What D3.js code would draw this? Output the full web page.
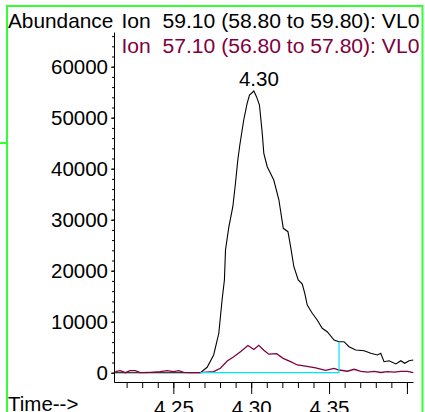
<!DOCTYPE html>
<html><head><meta charset="utf-8">
<script src="https://cdn.jsdelivr.net/npm/d3@7"></script>
<style>
html,body{margin:0;padding:0;background:#fff;overflow:hidden}
svg{display:block;font-family:"Liberation Sans",Arial,Helvetica,sans-serif}
</style>
</head><body>
<svg id="c" width="425" height="412"></svg>
<script>
// ---- data ----
const ion59Time = [4.2119,4.2400,4.2654,4.2674,4.2717,4.2759,4.2792,4.2813,4.2828,4.2835,4.2856,4.2882,4.2899,4.2914,4.2927,4.2952,4.2974,4.2989,4.3017,4.3034,4.3053,4.3071,4.3081,4.3103,4.3145,4.3178,4.3206,4.3236,4.3253,4.3274,4.3302,4.3328,4.3344,4.3360,4.3392,4.3424,4.3456,4.3488,4.3532,4.3564,4.3596,4.3628,4.3671,4.3725,4.3768,4.3811,4.3832,4.3853,4.3885,4.3929,4.3961,4.3986,4.4014,4.4040];
const ion59Values = [0,0,0,0,1060,3470,7730,14250,18180,24060,28510,32550,37140,41710,44650,49550,52820,54450,55240,54120,52490,46940,43020,40390,37780,33860,28310,27650,24710,20780,18180,17390,15570,13270,11650,10330,8710,8040,6410,6080,6080,5100,4450,4310,3800,3470,3800,2160,2350,1710,2350,1840,2350,2490];

const ion57Time = [4.2127,4.2159,4.2191,4.2223,4.2255,4.2288,4.2352,4.2416,4.2459,4.2502,4.2534,4.2566,4.2609,4.2674,4.2759,4.2802,4.2846,4.2888,4.2931,4.2979,4.3017,4.3049,4.3081,4.3113,4.3163,4.3205,4.3253,4.3296,4.3349,4.3414,4.3478,4.3532,4.3564,4.3618,4.3661,4.3704,4.3747,4.3790,4.3832,4.3875,4.3918,4.3961,4.4004,4.4041];
const ion57Values = [200,390,0,390,390,0,80,200,390,200,390,80,0,0,200,860,2290,3140,4120,5330,4550,5370,4390,3630,3730,2820,2160,1510,1270,960,470,860,530,290,670,270,100,270,40,200,100,270,240,0];

const integTime = [4.2674, 4.3564];
const integEndValue = 6080;

const peakTime = 4.3017;
const peakValue = 55240;
const peakLabel = "4.30";

const yTickValues = [0,10000,20000,30000,40000,50000,60000];
const xMajorTicks = [4.25,4.30,4.35,4.40];
const xTickLabels = ["4.25","4.30","4.35",""];
const titles = ["Ion  59.10 (58.80 to 59.80): VL0","Ion  57.10 (56.80 to 57.80): VL0"];

// ---- drawing ----
const svg = d3.select("#c");
const FS = 20.5;
const FT = 21.1;
const maroon = "#800040";
const green = "#33ff33";
const cyan = "#00e5ff";

const x = d3.scaleLinear().domain([4.2119, 4.4039]).range([114, 413]);
const y = d3.scaleLinear().domain([-1824, 66804]).range([382, 32]);

// border
const b = svg.append("g").attr("stroke", green).attr("stroke-width", 2).attr("fill","none");
b.append("path").attr("d", "M7,412 V6 H422.5 V412");
b.append("path").attr("d", "M0,143 H7");

// x axis minor
const minor = d3.range(422, 441).map(i => i/100);
svg.append("g").attr("transform","translate(0,382)")
  .call(d3.axisBottom(x).tickValues(minor).tickSize(6).tickSizeOuter(0).tickFormat(""))
  .call(g => g.selectAll("line,path").attr("stroke","#000"));
// x axis major
svg.append("g").attr("transform","translate(0,382)")
  .call(d3.axisBottom(x).tickValues(xMajorTicks).tickSize(12).tickSizeOuter(0).tickPadding(6)
        .tickFormat((d,i) => xTickLabels[i]))
  .call(g => g.select(".domain").remove())
  .call(g => g.selectAll("line").attr("stroke","#000"))
  .call(g => g.selectAll("text").attr("font-size", FS).attr("font-family","'Liberation Sans',Arial,sans-serif").attr("fill","#000"));

// y axis minor
svg.append("g").attr("transform","translate(114,0)")
  .call(d3.axisLeft(y).tickValues(d3.range(0, 66001, 2000)).tickSize(2).tickSizeOuter(0).tickFormat(""))
  .call(g => g.selectAll("line,path").attr("stroke","#000"));
// y axis major
svg.append("g").attr("transform","translate(114,0)")
  .call(d3.axisLeft(y).tickValues(yTickValues).tickSize(3).tickPadding(3).tickFormat(d3.format("d")))
  .call(g => g.select(".domain").remove())
  .call(g => g.selectAll("line").attr("stroke","#000"))
  .call(g => g.selectAll("text").attr("font-size", FS).attr("font-family","'Liberation Sans',Arial,sans-serif").attr("fill","#000"));

// traces
const line = d3.line().x(d => x(d[0])).y(d => y(d[1]));
const blackData = ion59Time.map((t,i) => [t, ion59Values[i]]);
const maroonData = ion57Time.map((t,i) => [t, ion57Values[i]]);

svg.append("path").attr("d", line(blackData)).attr("fill","none").attr("stroke","#000").attr("stroke-width",1.1);
svg.append("path").attr("d", line(maroonData)).attr("fill","none").attr("stroke",maroon).attr("stroke-width",1.3);

// integration baseline
svg.append("path")
  .attr("d", line([[integTime[0],0],[integTime[1],0],[integTime[1],integEndValue]]))
  .attr("fill","none").attr("stroke",cyan).attr("stroke-width",1.2);

// texts
svg.append("text").attr("x",8).attr("y",27.5).attr("font-size",20.8).attr("fill","#000").text("Abundance");
svg.append("text").attr("x",121.5).attr("y",28).attr("font-size",FT).attr("fill","#000")
  .attr("xml:space","preserve").style("white-space","pre").text(titles[0]);
svg.append("text").attr("x",121.5).attr("y",53).attr("font-size",FT).attr("fill",maroon)
  .attr("xml:space","preserve").style("white-space","pre").text(titles[1]);
svg.append("text").attr("x", x(peakTime)+5).attr("y", y(peakValue)-5).attr("text-anchor","middle")
  .attr("font-size",FS).attr("fill","#000").text(peakLabel);
svg.append("text").attr("x",8).attr("y",411).attr("font-size",FS).attr("fill","#000").text("Time-->");
</script>
</body></html>
